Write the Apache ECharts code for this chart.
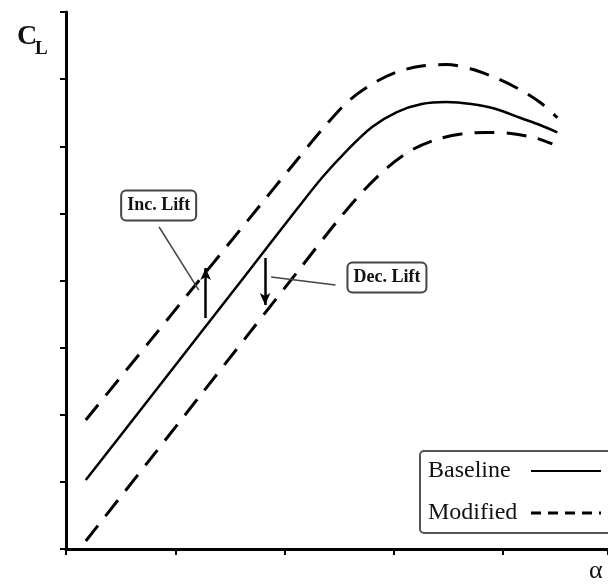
<!DOCTYPE html>
<html>
<head>
<meta charset="utf-8">
<script src="https://cdn.jsdelivr.net/npm/echarts@6/dist/echarts.min.js"></script>
<style>html,body{margin:0;padding:0;background:#fff}#c{width:608px;height:584px}</style>
</head>
<body>
<div id="c"></div>
<script>
// Angle of attack (arbitrary units) vs lift coefficient (arbitrary units)
const baselineAlpha = [0.181, 0.762, 1.215, 1.668, 2.121, 2.348, 2.575, 2.801, 3.028, 3.255, 3.481, 3.708, 3.935, 4.161, 4.343, 4.497];
const baselineCL    = [1.028, 2.239, 3.185, 4.131, 5.080, 5.542, 5.944, 6.287, 6.510, 6.629, 6.659, 6.629, 6.555, 6.421, 6.313, 6.207];

const incAlpha = [0.181, 0.762, 1.215, 1.668, 2.121, 2.348, 2.575, 2.801, 3.028, 3.255, 3.481, 3.708, 3.935, 4.161, 4.343, 4.497];
const incCL    = [1.922, 3.085, 3.994, 4.903, 5.810, 6.257, 6.659, 6.927, 7.106, 7.195, 7.218, 7.151, 7.017, 6.838, 6.648, 6.426];

const decAlpha = [0.181, 0.762, 1.215, 1.668, 2.121, 2.484, 2.711, 2.937, 3.164, 3.391, 3.617, 3.844, 4.071, 4.297, 4.451];
const decCL    = [0.119, 1.320, 2.258, 3.197, 4.136, 4.887, 5.318, 5.676, 5.944, 6.101, 6.182, 6.205, 6.190, 6.123, 6.034];

// annotation anchors (data units)
const incArrow = [[1.278, 3.441], [1.278, 4.186]];
const decArrow = [[1.822, 4.335], [1.822, 3.635]];
const incLeader = [[0.852, 4.797], [1.215, 3.858]];
const decLeader = [[1.877, 4.052], [2.466, 3.933]];
const incLabel = { text: 'Inc. Lift', coord: [0.848, 5.117] };
const decLabel = { text: 'Dec. Lift', coord: [2.937, 4.045] };

const zip = (a, b) => a.map((v, i) => [v, b[i]]);
const serif = 'Liberation Serif';

const chart = echarts.init(document.getElementById('c'), null, { renderer: 'canvas' });
const boxLabel = {
  show: true, position: 'inside', color: '#111', fontFamily: serif, fontWeight: 'bold', fontSize: 18,
  backgroundColor: '#fff', borderColor: '#444', borderWidth: 2, borderRadius: 4, padding: [6, 5, 4, 5]
};
chart.setOption({
  animation: false,
  backgroundColor: '#fff',
  color: ['#000', '#000', '#000', '#000'],
  grid: { left: 66, right: -5, top: 12, bottom: 35, containLabel: false },
  xAxis: {
    type: 'value', min: 0, max: 4.96, interval: 1,
    axisLine: { lineStyle: { color: '#000', width: 3 } },
    axisTick: { show: true, inside: false, length: 6, lineStyle: { color: '#000', width: 2 } },
    axisLabel: { show: false }, splitLine: { show: false }
  },
  yAxis: {
    type: 'value', min: 0, max: 8, interval: 1,
    axisLine: { show: true, lineStyle: { color: '#000', width: 3 } },
    axisTick: { show: true, inside: false, length: 6, lineStyle: { color: '#000', width: 2 } },
    axisLabel: { show: false }, splitLine: { show: false }
  },
  legend: {
    orient: 'vertical', left: 420, top: 451, align: 'right',
    itemWidth: 70, itemHeight: 14, itemGap: 18,
    padding: [8, 20, 8, 8],
    backgroundColor: '#fff', borderColor: '#555', borderWidth: 2, borderRadius: 4,
    itemStyle: { opacity: 0 },
    formatter: '{t|{name}}',
    textStyle: {
      fontFamily: serif, fontSize: 24, color: '#111',
      rich: { t: { fontFamily: serif, fontSize: 24, color: '#111', width: 98, align: 'left' } }
    },
    data: [
      { name: 'Baseline', itemStyle: { opacity: 0 } },
      { name: 'Modified', itemStyle: { opacity: 0 }, lineStyle: { type: [10, 7], width: 3 } }
    ]
  },
  graphic: [
    { type: 'text', left: 17, top: 23, style: { text: 'C', font: 'bold 28px "Liberation Serif"', fill: '#111' } },
    { type: 'text', left: 35, top: 40, style: { text: 'L', font: 'bold 19px "Liberation Serif"', fill: '#111' } },
    { type: 'text', left: 589, top: 558, style: { text: 'α', font: '26px "Liberation Serif"', fill: '#111' } }
  ],
  series: [
    {
      name: 'Baseline', type: 'line', data: zip(baselineAlpha, baselineCL), smooth: 0.3,
      symbol: 'none', itemStyle: { color: '#000' }, lineStyle: { color: '#000', width: 2.5, type: 'solid' }
    },
    {
      name: 'Modified', type: 'line', data: zip(incAlpha, incCL), smooth: 0.3,
      symbol: 'none', itemStyle: { color: '#000' }, lineStyle: { color: '#000', width: 3, type: [20, 12] }
    },
    {
      name: 'Modified', type: 'line', data: zip(decAlpha, decCL), smooth: 0.3,
      symbol: 'none', itemStyle: { color: '#000' }, lineStyle: { color: '#000', width: 3, type: [20, 12] }
    },
    {
      name: 'annotations', type: 'line', data: [], symbol: 'none',
      markLine: {
        silent: true, label: { show: false },
        data: [
          [{ coord: incArrow[0], symbol: 'none', lineStyle: { color: '#000', width: 2.5, type: 'solid' } },
           { coord: incArrow[1], symbol: 'arrow', symbolSize: [8, 12] }],
          [{ coord: decArrow[0], symbol: 'none', lineStyle: { color: '#000', width: 2.5, type: 'solid' } },
           { coord: decArrow[1], symbol: 'arrow', symbolSize: [8, 12] }],
          [{ coord: incLeader[0], symbol: 'none', lineStyle: { color: '#444', width: 1.5, type: 'solid' } },
           { coord: incLeader[1], symbol: 'none' }],
          [{ coord: decLeader[0], symbol: 'none', lineStyle: { color: '#444', width: 1.5, type: 'solid' } },
           { coord: decLeader[1], symbol: 'none' }]
        ]
      },
      markPoint: {
        silent: true, symbol: 'rect', symbolSize: 1, itemStyle: { color: 'rgba(0,0,0,0)' },
        data: [
          { coord: incLabel.coord, label: Object.assign({}, boxLabel, { formatter: incLabel.text }) },
          { coord: decLabel.coord, label: Object.assign({}, boxLabel, { formatter: decLabel.text }) }
        ]
      }
    }
  ]
});
</script>
</body>
</html>
